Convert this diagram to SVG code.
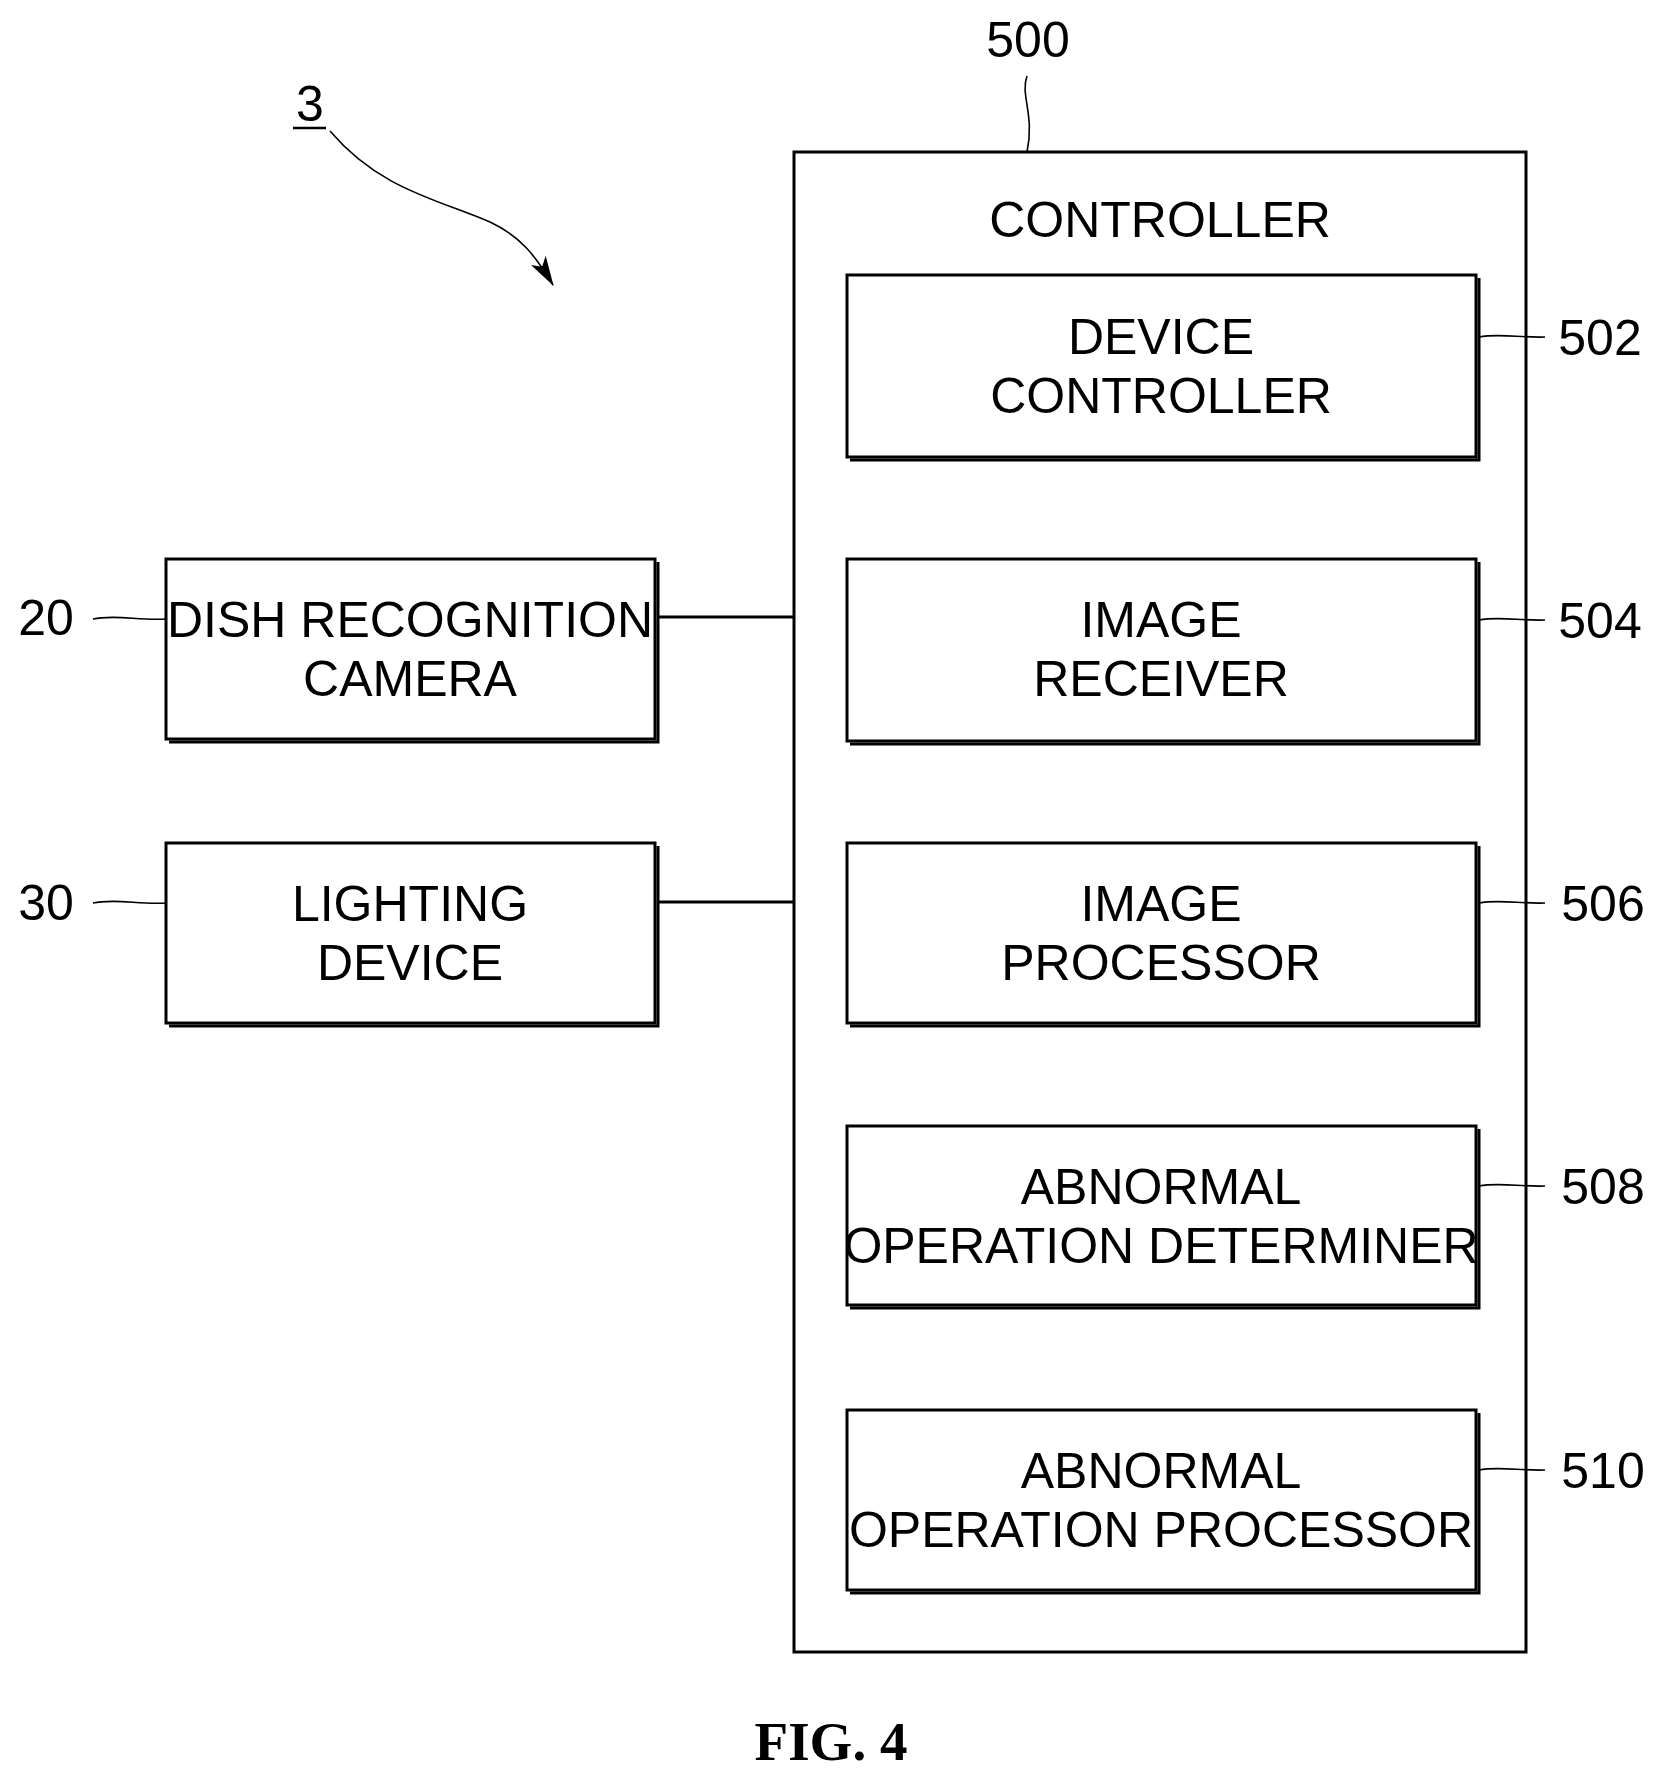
<svg xmlns="http://www.w3.org/2000/svg" width="1662" height="1784" viewBox="0 0 1662 1784">
<style>
.b{fill:#fff;stroke:#000;stroke-width:3}
.s{fill:none;stroke:#000;stroke-width:3}
.l{fill:none;stroke:#000;stroke-width:1.6}
.t{font-family:"Liberation Sans",Arial,sans-serif;font-size:50px;text-anchor:middle;fill:#000}
</style>
<defs><marker id="ah" viewBox="0 0 10 10" refX="9" refY="5" markerWidth="12" markerHeight="12" markerUnits="userSpaceOnUse" orient="auto"><path d="M0,0 L10,5 L0,10 L3,5 z" fill="#000"/></marker>
<marker id="a2" viewBox="0 0 24 14" refX="23" refY="7" markerWidth="30" markerHeight="18" markerUnits="userSpaceOnUse" orient="auto"><path d="M0,0 L24,7 L0,14 L6,7 z" fill="#000"/></marker></defs>
<g id="controller"><rect class="b" x="794" y="152" width="732" height="1500"/><text class="t" x="1160" y="237">CONTROLLER</text></g>
<g id="n502"><rect class="b" x="847" y="275" width="629" height="182"/><path class="s" d="M1479,278V460H850"/><text class="t" x="1161" y="354">DEVICE</text><text class="t" x="1161" y="413">CONTROLLER</text></g>
<g id="n504"><rect class="b" x="847" y="559" width="629" height="182"/><path class="s" d="M1479,562V744H850"/><text class="t" x="1161" y="637">IMAGE</text><text class="t" x="1161" y="696">RECEIVER</text></g>
<g id="n506"><rect class="b" x="847" y="843" width="629" height="180"/><path class="s" d="M1479,846V1026H850"/><text class="t" x="1161" y="921">IMAGE</text><text class="t" x="1161" y="980">PROCESSOR</text></g>
<g id="n508"><rect class="b" x="847" y="1126" width="629" height="179"/><path class="s" d="M1479,1129V1308H850"/><text class="t" x="1161" y="1204">ABNORMAL</text><text class="t" x="1161" y="1263">OPERATION DETERMINER</text></g>
<g id="n510"><rect class="b" x="847" y="1410" width="629" height="180"/><path class="s" d="M1479,1413V1593H850"/><text class="t" x="1161" y="1488">ABNORMAL</text><text class="t" x="1161" y="1547">OPERATION PROCESSOR</text></g>
<g id="n20"><rect class="b" x="166" y="559" width="489" height="180"/><path class="s" d="M658,562V742H169"/><text class="t" x="410" y="637">DISH RECOGNITION</text><text class="t" x="410" y="696">CAMERA</text></g>
<g id="n30"><rect class="b" x="166" y="843" width="489" height="180"/><path class="s" d="M658,846V1026H169"/><text class="t" x="410" y="921">LIGHTING</text><text class="t" x="410" y="980">DEVICE</text></g>
<g id="connectors">
<line class="s" x1="657" y1="617" x2="794" y2="617"/>
<line class="s" x1="657" y1="902" x2="794" y2="902"/>
<path class="l" d="M1479,337 C1500,333 1520,338 1545,337"/>
<path class="l" d="M1479,620 C1500,616 1520,621 1545,620"/>
<path class="l" d="M1479,903 C1500,899 1520,904 1545,903"/>
<path class="l" d="M1479,1186 C1500,1182 1520,1187 1545,1186"/>
<path class="l" d="M1479,1470 C1500,1466 1520,1471 1545,1470"/>
<path class="l" d="M93,619 C115,614 140,621 166,619"/>
<path class="l" d="M93,903 C115,898 140,905 166,903"/>
<path class="l" d="M1027,76 C1020,95 1035,115 1027,152"/>
<path class="l" d="M330,131 C380,190 440,200 490,222 C520,236 535,255 553,285" marker-end="url(#a2)"/>
</g>
<g id="labels" class="t">
<text class="t" x="1600" y="355">502</text>
<text class="t" x="1600" y="638">504</text>
<text class="t" x="1603" y="921">506</text>
<text class="t" x="1603" y="1204">508</text>
<text class="t" x="1603" y="1488">510</text>
<text class="t" x="46" y="635">20</text>
<text class="t" x="46" y="920">30</text>
<text class="t" x="1028" y="57">500</text>
<text class="t" x="310" y="121">3</text>
<line x1="293" y1="128" x2="326" y2="128" stroke="#000" stroke-width="2.5"/>
<text x="831" y="1760" style="font-family:'Liberation Serif',serif;font-weight:bold;font-size:55px;text-anchor:middle">FIG. 4</text>
</g>
</svg>
